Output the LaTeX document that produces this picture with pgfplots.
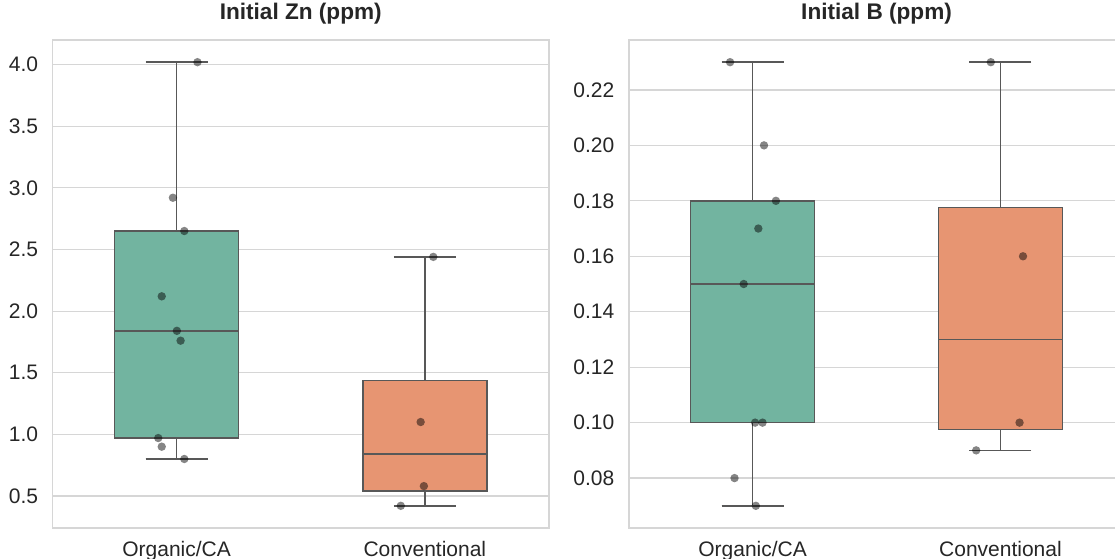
\documentclass[border=0pt]{standalone}
\usepackage{fontspec}
\setmainfont{Liberation Sans}
\usepackage{pgfplots}
\pgfplotsset{compat=1.18}
\usepgfplotslibrary{statistics}
\definecolor{boxgreen}{RGB}{114,180,160}
\definecolor{boxorange}{RGB}{231,149,114}
\definecolor{edgegray}{RGB}{88,88,88}
\definecolor{txt}{RGB}{38,38,38}
\definecolor{gridc}{RGB}{214,214,214}
\pgfplotsset{
  panel/.style={
    scale only axis, height=244pt,
    xmin=-0.5, xmax=1.5,
    xtick={0,1}, xticklabels={Organic/CA, Conventional},
    ymajorgrids, grid style={gridc, line width=0.6pt},
    axis line style={gridc, line width=0.8pt},
    major tick length=0pt, tick style={draw=none},
    tick label style={font=\fontsize{10.5}{12}\selectfont, text=txt},
    /pgf/number format/assume math mode=true,
    yticklabel style={inner sep=0pt, xshift=-7pt, anchor=east},
    xticklabel style={inner sep=0pt, yshift=-6.5pt, anchor=north},
    title style={font=\fontsize{11.3}{13}\selectfont\bfseries, text=txt, anchor=base, at={(0.5,1)}, yshift=4.2pt, inner sep=0pt},
    boxplot/draw direction=y,
    boxplot/box extend=0.5,
    boxplot/whisker extend=0.25,
  },
  pts/.style={only marks, mark=*, mark size=2.1pt, black, mark options={fill=black, fill opacity=0.48, draw opacity=0}},
  bx/.style={draw=edgegray, line width=0.75pt, fill=#1},
}
\begin{document}
\begin{tikzpicture}
\begin{axis}[panel, at={(26.25pt,15pt)}, anchor=south west, width=248.25pt,
  ymin=0.24, ymax=4.20, ytick={0.5,1.0,...,4.0},
  yticklabel style={/pgf/number format/.cd, fixed, fixed zerofill, precision=1},
  title={Initial Zn (ppm)}]
\addplot[bx=boxgreen, boxplot prepared={draw position=0, median=1.84, lower quartile=0.97, upper quartile=2.65, lower whisker=0.80, upper whisker=4.02}] coordinates {};
\addplot[bx=boxorange, boxplot prepared={draw position=1, median=0.84, lower quartile=0.54, upper quartile=1.435, lower whisker=0.42, upper whisker=2.44}] coordinates {};
\addplot[pts] coordinates {(0.084,4.02) (-0.015,2.92) (0.031,2.65) (-0.060,2.12) (0.001,1.84) (0.016,1.76) (-0.074,0.97) (-0.060,0.90) (0.031,0.80)};
\addplot[pts] coordinates {(1.034,2.44) (0.983,1.10) (0.996,0.58) (0.903,0.42)};
\end{axis}
\begin{axis}[panel, at={(314.35pt,15pt)}, anchor=south west, width=247.85pt,
  ymin=0.062, ymax=0.238, ytick={0.08,0.10,...,0.22},
  yticklabel style={/pgf/number format/.cd, fixed, fixed zerofill, precision=2},
  title={Initial B (ppm)}]
\addplot[bx=boxgreen, boxplot prepared={draw position=0, median=0.15, lower quartile=0.10, upper quartile=0.18, lower whisker=0.07, upper whisker=0.23}] coordinates {};
\addplot[bx=boxorange, boxplot prepared={draw position=1, median=0.13, lower quartile=0.0975, upper quartile=0.1775, lower whisker=0.09, upper whisker=0.23}] coordinates {};
\addplot[pts] coordinates {(-0.091,0.23) (0.046,0.20) (0.094,0.18) (0.023,0.17) (-0.036,0.15) (0.010,0.10) (0.040,0.10) (-0.073,0.08) (0.013,0.07)};
\addplot[pts] coordinates {(0.961,0.23) (1.091,0.16) (1.077,0.10) (0.902,0.09)};
\end{axis}
\pgfresetboundingbox
\useasboundingbox (0,0) rectangle (557.5pt,279pt);
\end{tikzpicture}
\end{document}
